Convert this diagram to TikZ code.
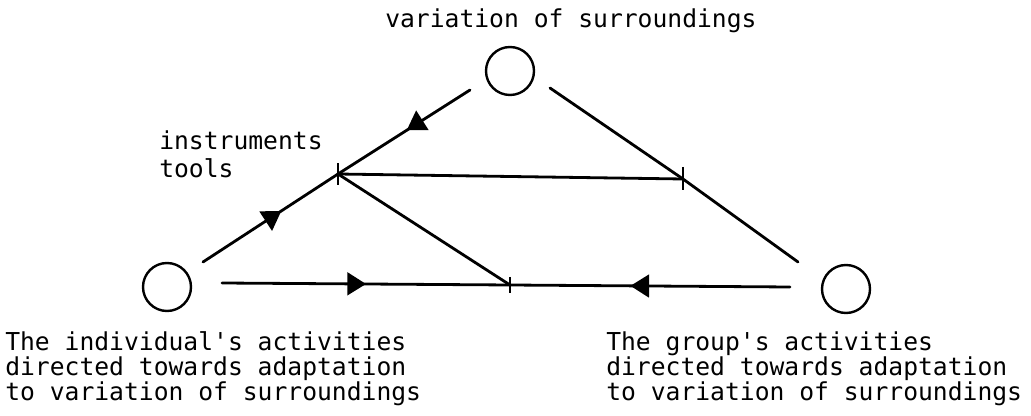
\documentclass[tikz,border=0pt]{standalone}
\usepackage{fontspec}
\newfontfamily\tw{DejaVu Sans Mono}
\usetikzlibrary{arrows.meta,decorations.markings}
\begin{document}
\begin{tikzpicture}[x=0.75pt,y=-0.75pt,
  ln/.style={line width=2.1pt, line cap=round},
  cir/.style={circle, draw, line width=1.8pt, minimum size=36pt, inner sep=0pt},
  txt/.style={anchor=base west, inner sep=0pt, font=\tw\fontsize{18.5}{18.75}\selectfont},
  tickmark/.style={line width=2.1pt},
  midarrow/.style={postaction={decorate}, decoration={markings, mark=at position #1 with {\arrow{Triangle[length=14pt,width=17pt]}}}}
]
\useasboundingbox (0,0) rectangle (1031,416);
\node[cir] (T) at (510,71) {};
\node[cir] (L) at (167,287) {};
\node[cir] (R) at (846,289) {};
\coordinate (P) at (338,174);
\coordinate (Q) at (683,179);
\coordinate (B) at (510,285);
\coordinate (t1) at (470,90);
\coordinate (t2) at (550,88);
\coordinate (l1) at (203,262);
\coordinate (l2) at (222,283);
\coordinate (r1) at (798,262);
\coordinate (r2) at (790,287);
\draw[ln, midarrow=0.48] (t1) -- (P);
\draw[ln, midarrow=0.58] (l1) -- (P);
\draw[ln] (P) -- (Q);
\draw[ln] (t2) -- (Q) -- (r1);
\draw[ln] (P) -- (B);
\draw[ln, midarrow=0.5] (l2) -- (B);
\draw[ln, midarrow=0.57] (r2) -- (B);
\draw[tickmark] ([yshift=8pt]P) -- ([yshift=-8pt]P);
\draw[tickmark] ([yshift=9pt]Q) -- ([yshift=-8pt]Q);
\draw[tickmark] ([yshift=6pt]B) -- ([yshift=-6pt]B);
\node[txt] (top) at (385,28) {variation of surroundings};
\node[txt] (ins1) at (159,150) {instruments};
\node[txt] (ins2) at (159,178) {tools};
\node[txt] (a1) at (5,351) {The individual\textquotesingle s activities};
\node[txt] (a2) at (5,376) {directed towards adaptation};
\node[txt] (a3) at (5,400) {to variation of surroundings};
\node[txt] (b1) at (606,351) {The group\textquotesingle s activities};
\node[txt] (b2) at (606,376) {directed towards adaptation};
\node[txt] (b3) at (606,400) {to variation of surroundings};
\end{tikzpicture}
\end{document}
